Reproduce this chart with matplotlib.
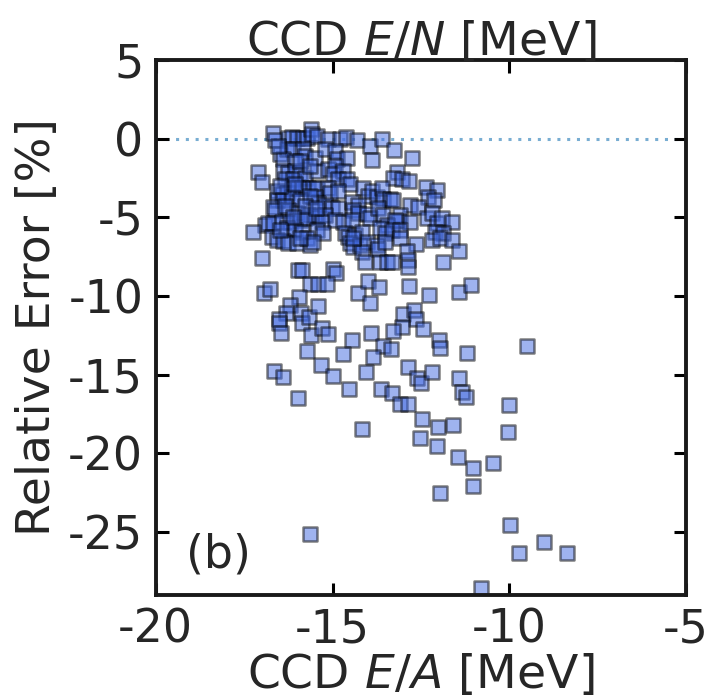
import matplotlib
matplotlib.use("Agg")
import matplotlib.pyplot as plt

plt.rcParams['font.family'] = ['DejaVu Sans']
plt.rcParams['axes.unicode_minus'] = False
plt.rcParams['mathtext.fontset'] = 'dejavusans'

ccd_ea = [
    -16.69, -16.63, -16.26, -16.15, -16.01, -15.84, -15.73, -15.61, -15.58, -15.44,
    -15.13, -14.79, -14.62, -14.31, -13.94, -13.60, -13.26, -16.49, -16.29, -16.12,
    -15.84, -15.78, -16.41, -16.07, -15.50, -15.22, -14.93, -14.88, -14.59, -13.89,
    -12.75, -17.11, -17.00, -16.41, -16.26, -16.07, -15.92, -16.35, -16.12, -15.78,
    -15.44, -15.13, -14.93, -14.99, -14.71, -14.85, -14.59, -14.51, -13.18, -13.29,
    -13.04, -12.84, -16.58, -16.43, -16.29, -16.15, -16.01, -15.87, -15.70, -15.56,
    -15.44, -15.13, -15.07, -14.85, -14.14, -14.00, -13.89, -13.74, -13.60, -13.57,
    -13.38, -12.36, -12.05, -12.30, -12.13, -16.58, -16.41, -16.15, -15.92, -15.50,
    -16.69, -16.63, -16.26, -16.01, -15.70, -15.44, -15.41, -15.22, -15.02, -14.85,
    -14.45, -14.28, -14.42, -14.28, -14.03, -13.94, -13.72, -13.57, -12.81, -12.58,
    -15.50, -15.22, -13.09, -13.15, -12.81, -12.33, -12.19, -16.91, -16.83, -16.69,
    -16.43, -16.21, -15.92, -15.78, -15.30, -14.93, -14.71, -14.45, -13.46, -13.24,
    -12.05, -11.90, -11.62, -16.29, -16.07, -15.87, -15.44, -15.27, -14.65, -14.57,
    -14.37, -14.17, -13.66, -13.52, -13.32, -13.09, -12.10, -11.88, -17.25, -16.72,
    -16.58, -16.41, -16.26, -16.01, -15.73, -15.64, -15.56, -14.51, -14.42, -14.23,
    -14.03, -13.74, -13.72, -13.52, -13.09, -12.64, -12.19, -11.96, -11.62, -11.42,
    -14.17, -12.90, -17.00, -14.08, -13.66, -13.46, -13.32, -12.87, -12.87, -11.88,
    -15.98, -15.87, -14.99, -14.91, -16.94, -16.77, -15.64, -15.41, -15.16, -14.28,
    -14.00, -13.69, -13.94, -12.84, -12.27, -11.42, -11.08, -15.95, -16.21, -16.32,
    -16.52, -16.52, -15.90, -15.87, -15.67, -15.41, -16.46, -15.61, -15.30, -15.13,
    -14.45, -15.73, -14.71, -15.33, -14.99, -16.66, -16.41, -14.54, -15.98, -13.01,
    -12.70, -12.64, -12.44, -13.04, -13.29, -13.91, -13.57, -13.35, -13.86, -11.99,
    -11.96, -11.20, -14.06, -12.87, -12.61, -12.50, -12.19, -11.42, -11.34, -11.23,
    -13.63, -13.32, -13.09, -12.87, -10.01, -12.47, -12.02, -11.59, -14.17, -12.53,
    -12.05, -10.04, -11.45, -11.03, -10.46, -11.03, -11.96, -9.98, -9.02, -9.73,
    -8.37, -10.80, -15.64, -9.50, -14.42, -13.29,
    -16.55, -15.92, -15.64, -16.07, -16.49, -15.64, -16.35, -15.78, -16.12, -16.49,
    -15.92, -15.47,
]

rel_err = [
    0.38, -0.06, 0.06, 0.13, 0.06, 0.06, 0.06, 0.63, 0.32, 0.19,
    0.00, 0.00, 0.13, -0.06, -0.44, 0.00, -0.70, -0.95, -0.63, -0.63,
    -0.63, -1.08, -1.27, -1.39, -1.20, -0.63, -0.76, -1.27, -1.20, -1.33,
    -1.20, -2.09, -2.72, -2.03, -2.15, -2.03, -2.15, -2.53, -2.53, -2.47,
    -2.03, -1.90, -1.71, -2.22, -2.03, -2.53, -2.59, -2.85, -2.09, -2.47,
    -2.53, -2.66, -3.35, -3.54, -3.48, -3.16, -3.10, -3.10, -3.10, -3.10,
    -3.10, -3.10, -3.42, -3.35, -3.16, -3.61, -3.35, -3.73, -3.10, -3.80,
    -3.80, -3.04, -3.23, -3.73, -3.92, -3.92, -3.92, -3.73, -3.92, -3.73,
    -4.37, -4.56, -4.56, -4.75, -4.87, -5.00, -4.11, -4.24, -4.43, -4.43,
    -4.05, -4.24, -4.56, -4.75, -4.81, -5.06, -4.43, -4.87, -4.24, -4.37,
    -4.87, -4.87, -4.87, -5.25, -5.32, -5.06, -4.75, -5.51, -5.38, -5.38,
    -5.32, -5.32, -5.19, -5.06, -5.32, -5.19, -5.32, -5.19, -5.51, -5.19,
    -5.38, -5.06, -5.32, -5.70, -5.82, -5.95, -5.82, -6.01, -6.01, -6.27,
    -6.14, -5.95, -5.70, -6.01, -5.82, -5.82, -5.95, -6.01, -5.95, -6.27,
    -6.46, -6.52, -6.65, -6.65, -6.33, -6.77, -6.58, -6.65, -6.90, -6.77,
    -6.58, -6.77, -7.03, -6.58, -6.33, -6.71, -6.46, -6.33, -6.46, -7.15,
    -7.22, -7.15, -7.59, -7.85, -7.85, -7.85, -7.85, -7.72, -8.16, -7.85,
    -8.35, -8.35, -8.29, -8.54, -9.81, -9.56, -9.24, -9.24, -9.24, -9.81,
    -9.05, -9.43, -10.44, -9.37, -9.94, -9.75, -9.30, -10.06, -10.57, -11.08,
    -11.46, -11.71, -11.08, -11.71, -11.33, -10.63, -12.34, -12.47, -12.03, -12.41,
    -12.78, -13.48, -13.67, -14.37, -15.06, -14.75, -15.13, -15.89, -16.46, -11.14,
    -10.89, -11.46, -12.09, -11.96, -12.22, -12.34, -13.16, -13.35, -13.86, -12.78,
    -13.29, -13.61, -14.81, -14.49, -15.19, -15.51, -14.81, -15.19, -16.08, -16.39,
    -15.89, -16.14, -16.84, -16.84, -16.90, -17.85, -18.35, -18.23, -18.48, -19.05,
    -19.56, -18.67, -20.25, -20.95, -20.63, -22.09, -22.53, -24.56, -25.63, -26.33,
    -26.33, -28.54, -25.13, -13.16, -6.33, -3.92,
    -0.44, -1.39, -1.71, -2.85, -3.00, -3.61, -4.30, -4.30, -5.00, -5.82,
    -6.33, -4.43,
]

xticks = [-20, -15, -10, -5]
yticks = [5, 0, -5, -10, -15, -20, -25]

fig = plt.figure(figsize=(7.11, 6.99), dpi=100)
ax = fig.add_axes([0.219, 0.149, 0.746, 0.765])

ax.axhline(0, color='#1f77b4', alpha=0.6, ls=(0, (1, 2.2)), lw=2.2, zorder=1)
ax.scatter(ccd_ea, rel_err, marker='s', s=105, facecolor='royalblue',
           edgecolor='k', linewidth=1.8, alpha=0.5, zorder=2)

ax.set_xlim(-20, -5)
ax.set_ylim(-29, 5)
ax.set_xticks(xticks)
ax.set_yticks(yticks)

txtc = '#262626'
fs_tick = 33
fs_lab = 34
ax.tick_params(direction='in', which='major', length=9, width=2.2,
               top=True, right=True, labelsize=fs_tick, labelcolor=txtc, pad=9)
for sp in ax.spines.values():
    sp.set_linewidth(2.8)
    sp.set_color('#1a1a1a')

ax.set_xlabel('CCD $E/A$ [MeV]', fontsize=fs_lab, color=txtc, labelpad=0)
ax.set_ylabel('Relative Error [%]', fontsize=fs_lab, color=txtc, labelpad=6)
ax.set_title('CCD $E/N$ [MeV]', fontsize=fs_lab, color=txtc, pad=4)
ax.text(0.057, 0.075, '(b)', transform=ax.transAxes, fontsize=fs_tick,
        color=txtc, va='center', ha='left')

fig.savefig('out.png', dpi=100)
